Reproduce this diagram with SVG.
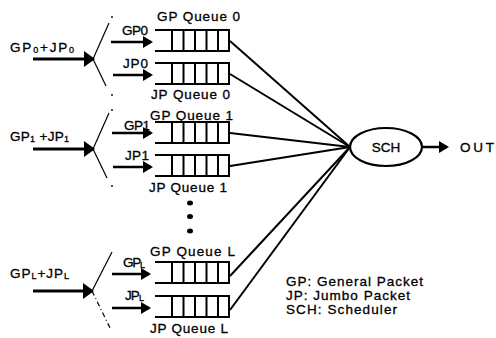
<svg xmlns="http://www.w3.org/2000/svg" xmlns:xlink="http://www.w3.org/1999/xlink" width="496" height="338" viewBox="0 0 496 338">
<style>
text{font-family:"Liberation Sans",Arial,sans-serif;fill:#000;font-size:13.5px;stroke:#000;stroke-width:0.3}
.sub{font-size:9px}
.q line{stroke:#000;stroke-width:2}
.arr{stroke:#000;stroke-width:2.5;fill:none}
.big{stroke:#000;stroke-width:3;fill:none}
.sw{stroke:#000;stroke-width:1.2;fill:none}
.swd{stroke:#000;stroke-width:1.2;fill:none;stroke-dasharray:5 3 1 3}
.link{stroke:#000;stroke-width:2;fill:none}
</style>
<defs>
<marker id="ah" markerUnits="userSpaceOnUse" markerWidth="10" markerHeight="12" viewBox="0 0 10 12" refX="8" refY="6" orient="auto"><path d="M0,0 L10,6 L0,12 Z" fill="#000"/></marker>
<marker id="ahb" markerUnits="userSpaceOnUse" markerWidth="11" markerHeight="16" viewBox="0 0 11 16" refX="9" refY="8" orient="auto"><path d="M0,0 L11,8 L0,16 Z" fill="#000"/></marker>
<g id="queue" class="q">
<line x1="0" y1="0" x2="75" y2="0"/>
<line x1="0" y1="21" x2="75" y2="21"/>
<line x1="17" y1="0" x2="17" y2="21"/>
<line x1="28.5" y1="0" x2="28.5" y2="21"/>
<line x1="40" y1="0" x2="40" y2="21"/>
<line x1="51.5" y1="0" x2="51.5" y2="21"/>
<line x1="63" y1="0" x2="63" y2="21"/>
<line x1="74" y1="0" x2="74" y2="21"/>
</g>
</defs>

<g id="connectors">
<line class="big" x1="33" y1="59" x2="93" y2="59" marker-end="url(#ahb)"/>
<line class="big" x1="33" y1="149" x2="93" y2="149" marker-end="url(#ahb)"/>
<line class="big" x1="33" y1="291" x2="92" y2="291" marker-end="url(#ahb)"/>
<line class="sw" x1="93" y1="59" x2="109" y2="23"/>
<line class="sw" x1="93" y1="59" x2="106" y2="86"/>
<line class="sw" x1="93" y1="149" x2="109" y2="113"/>
<line class="sw" x1="93" y1="149" x2="107" y2="178"/>
<line class="sw" x1="92" y1="291" x2="112" y2="252"/>
<line class="swd" x1="92" y1="291" x2="111" y2="330"/>
<circle cx="112" cy="17" r="0.9"/>
<circle cx="112" cy="95" r="0.9"/>
<circle cx="112" cy="110" r="0.9"/>
<circle cx="112" cy="186" r="0.9"/>
<line class="arr" x1="111" y1="42" x2="151" y2="42" marker-end="url(#ah)"/>
<line class="arr" x1="113" y1="75" x2="151" y2="75" marker-end="url(#ah)"/>
<line class="arr" x1="112" y1="133" x2="151" y2="133" marker-end="url(#ah)"/>
<line class="arr" x1="113" y1="167" x2="151" y2="167" marker-end="url(#ah)"/>
<line class="arr" x1="112" y1="274" x2="149" y2="274" marker-end="url(#ah)"/>
<line class="arr" x1="112" y1="308" x2="149" y2="308" marker-end="url(#ah)"/>
<line class="link" x1="230" y1="41" x2="350" y2="147"/>
<line class="link" x1="230" y1="74" x2="350" y2="147"/>
<line class="link" x1="230" y1="133" x2="350" y2="147"/>
<line class="link" x1="230" y1="166" x2="350" y2="147"/>
<line class="link" x1="230" y1="276" x2="350" y2="147"/>
<line class="link" x1="230" y1="310" x2="350" y2="147"/>
<line class="arr" stroke-width="2" x1="422" y1="147" x2="447" y2="147" marker-end="url(#ah)"/>
</g>

<g id="input0"><text x="10" y="52" textLength="64" lengthAdjust="spacing">GP<tspan class="sub" dy="0.5">0</tspan><tspan dy="-0.5">+JP</tspan><tspan class="sub" dy="0.5">0</tspan></text></g>
<g id="input1"><text x="10" y="141" textLength="59" lengthAdjust="spacing">GP<tspan class="sub" dy="0.5">1</tspan><tspan dy="-0.5"> +JP</tspan><tspan class="sub" dy="0.5">1</tspan></text></g>
<g id="inputL"><text x="10" y="278" textLength="59" lengthAdjust="spacing">GP<tspan class="sub" dy="0.5">L</tspan><tspan dy="-0.5">+JP</tspan><tspan class="sub" dy="0.5">L</tspan></text></g>

<g id="gpq0"><use xlink:href="#queue" x="155" y="30"/><text x="157" y="21" textLength="83" lengthAdjust="spacing">GP Queue 0</text><text x="122" y="35" textLength="26" lengthAdjust="spacing">GP0</text></g>
<g id="jpq0"><use xlink:href="#queue" x="155" y="63"/><text x="151" y="99" textLength="79" lengthAdjust="spacing">JP Queue 0</text><text x="123" y="68" textLength="25" lengthAdjust="spacing">JP0</text></g>
<g id="gpq1"><use xlink:href="#queue" x="155" y="122"/><text x="150" y="120" textLength="83" lengthAdjust="spacing">GP Queue 1</text><text x="124" y="130" textLength="26" lengthAdjust="spacing">GP1</text></g>
<g id="jpq1"><use xlink:href="#queue" x="155" y="155"/><text x="149" y="192" textLength="78" lengthAdjust="spacing">JP Queue 1</text><text x="125" y="160" textLength="24" lengthAdjust="spacing">JP1</text></g>
<g id="ellipsis"><ellipse cx="190" cy="203" rx="3" ry="2.5"/><ellipse cx="190" cy="216.5" rx="3" ry="2.5"/><ellipse cx="190" cy="231" rx="3" ry="2.5"/></g>
<g id="gpqL"><use xlink:href="#queue" x="155" y="262"/><text x="150" y="256" textLength="85" lengthAdjust="spacing">GP Queue L</text><text x="123" y="267" textLength="22" lengthAdjust="spacing">GP<tspan class="sub" dy="0.5">L</tspan></text></g>
<g id="jpqL"><use xlink:href="#queue" x="155" y="296"/><text x="150" y="333" textLength="78" lengthAdjust="spacing">JP Queue L</text><text x="125" y="300" textLength="19" lengthAdjust="spacing">JP<tspan class="sub" dy="0.5">L</tspan></text></g>

<g id="sch"><ellipse cx="386" cy="147" rx="36" ry="19" fill="#fff" stroke="#000" stroke-width="2.2"/><text x="386" y="152" text-anchor="middle">SCH</text></g>
<g id="out"><text x="460" y="152" textLength="34" lengthAdjust="spacing">OUT</text></g>

<g id="legend">
<text x="286" y="286" textLength="137" lengthAdjust="spacing">GP: General Packet</text>
<text x="286" y="300" textLength="124" lengthAdjust="spacing">JP: Jumbo Packet</text>
<text x="286" y="314" textLength="111" lengthAdjust="spacing">SCH: Scheduler</text>
</g>
</svg>
